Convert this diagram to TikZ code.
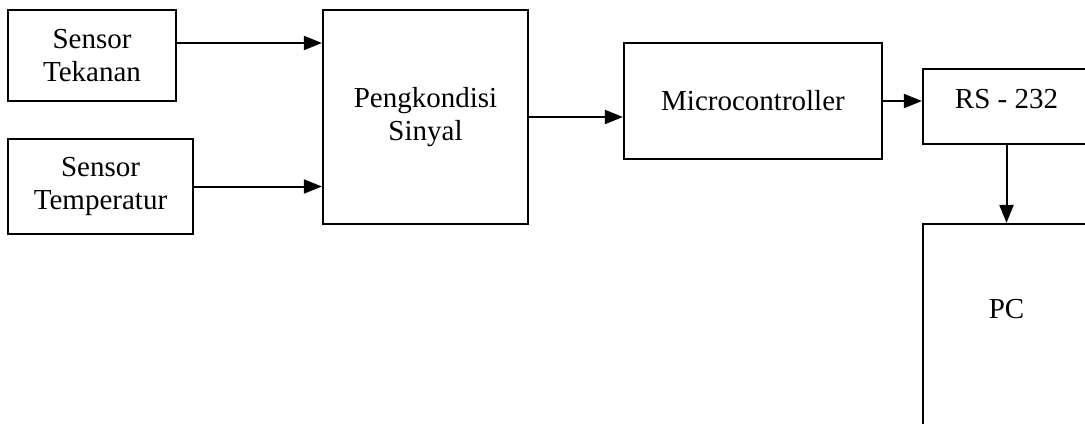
\documentclass[tikz,border=0pt]{standalone}
\usepackage{fontspec}
\setmainfont{Liberation Serif}
\usetikzlibrary{shapes,arrows.meta,positioning,calc}
\usepackage{xcolor}

\begin{document}
\begin{tikzpicture}[x=0.5pt, y=-0.5pt,
    every node/.style={font=\fontsize{14.5}{16.5}\selectfont, align=center},
    blok/.style={draw, line width=1.1pt, fill=white, inner sep=0pt},
    arr/.style={-{Triangle[length=9pt,width=7pt]}, line width=1pt}]
            \useasboundingbox (0,0) rectangle (1085,423);
            \node[blok, minimum width=84pt, minimum height=45.5pt] (tekanan) at (92,55.5) {Sensor\\Tekanan};
            \node[blok, minimum width=92.5pt, minimum height=47.5pt] (temp) at (100.5,186.5) {Sensor\\Temperatur};
            \node[blok, minimum width=102.5pt, minimum height=107pt] (sinyal) at (425.5,117) {Pengkondisi\\Sinyal};
            \node[blok, minimum width=129pt, minimum height=58pt] (mcu) at (753,101) {Microcontroller};
            \node[blok, minimum width=83.5pt, minimum height=37.5pt] (rs) at (1006.5,106.5) {};
            \node (rslabel) at (1006.5,99) {RS - 232};
            \node[blok, minimum width=83.5pt, minimum height=138pt] (pc) at (1006.5,362) {};
            \node (pclabel) at (1006.5,309) {PC};

            \path (tekanan.east) ++(0,-12.5) coordinate (tk);
            \draw[arr] (tk) -- (tk -| sinyal.west);
            \draw[arr] (temp.east) -- (temp.east -| sinyal.west);
            \draw[arr] (sinyal.east) -- (sinyal.east -| mcu.west);
            \draw[arr] (mcu.east) -- (mcu.east -| rs.west);
            \draw[arr] (rs.south) -- (pc.north);
        \end{tikzpicture}
\end{document}
